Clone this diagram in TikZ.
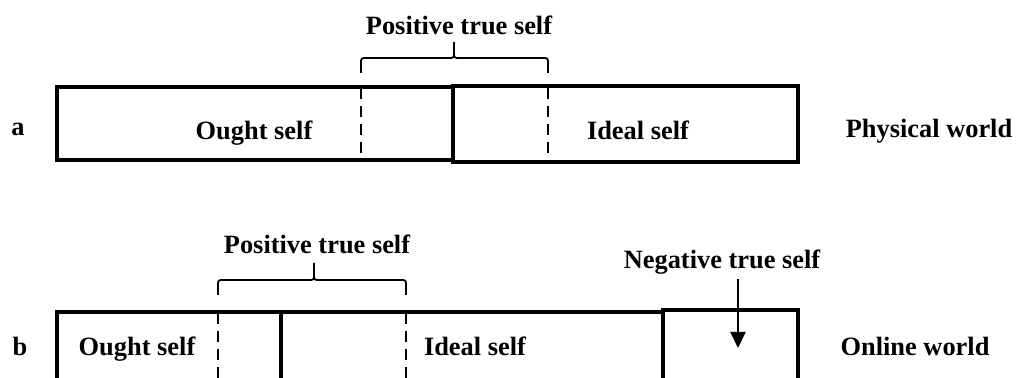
\documentclass[tikz,border=0pt]{standalone}
\usepackage{fontspec}
\setmainfont{Liberation Serif}
\usetikzlibrary{arrows.meta}
\begin{document}
\begin{tikzpicture}[x=0.5pt, y=-0.5pt, >={Triangle[length=8pt,width=7.5pt]},
        every node/.style={font=\fontsize{13.2}{15}\selectfont\bfseries, inner sep=0pt, anchor=base},
        box/.style={line width=1.6pt},
        split/.style={line width=1.1pt, dash pattern=on 5.5pt off 3.5pt},
        brace/.style={line width=0.9pt}]
        \clip (0,0) rectangle (1028,378);

        % a: physical world
        \draw[box] (57,87) rectangle (453,160);
        \draw[box] (453,86) rectangle (798,162);
        \draw[split] (361,88) -- (361,160);
        \draw[split] (548,88) -- (548,160);
        \draw[brace] (361,73) -- (361,64) .. controls (361,58) .. (367,58) -- (448,58)
            .. controls (454,58) .. (454,52) -- (454,42);
        \draw[brace] (548,73) -- (548,64) .. controls (548,58) .. (542,58) -- (460,58)
            .. controls (454,58) .. (454,52);
        \node (pos_a) at (459,35) {Positive true self};
        \node (ought_a) at (254,140) {Ought self};
        \node (ideal_a) at (638,140) {Ideal self};
        \node (phys) at (929,138) {Physical world};
        \node (lbl_a) at (18,136) {a};

        % b: online world
        \draw[box] (57,312) rectangle (281,400);
        \draw[box] (281,312) rectangle (663,400);
        \draw[box] (663,310) rectangle (798,400);
        \draw[split] (218,313) -- (218,400);
        \draw[split] (406,313) -- (406,400);
        \draw[brace] (218,295) -- (218,286) .. controls (218,280) .. (224,280) -- (308,280)
            .. controls (314,280) .. (314,274) -- (314,263);
        \draw[brace] (406,295) -- (406,286) .. controls (406,280) .. (400,280) -- (320,280)
            .. controls (314,280) .. (314,274);
        \node (pos_b) at (317,254) {Positive true self};
        \node (neg) at (722,269) {Negative true self};
        \node (ought_b) at (137,356) {Ought self};
        \node (ideal_b) at (475,356) {Ideal self};
        \node (online) at (915,356) {Online world};
        \node (lbl_b) at (20,356) {b};
        \coordinate (negtip) at (738,348);
        \draw[->, line width=1pt] ([yshift=-2pt]negtip |- neg.south) -- (negtip);
    \end{tikzpicture}
\end{document}
